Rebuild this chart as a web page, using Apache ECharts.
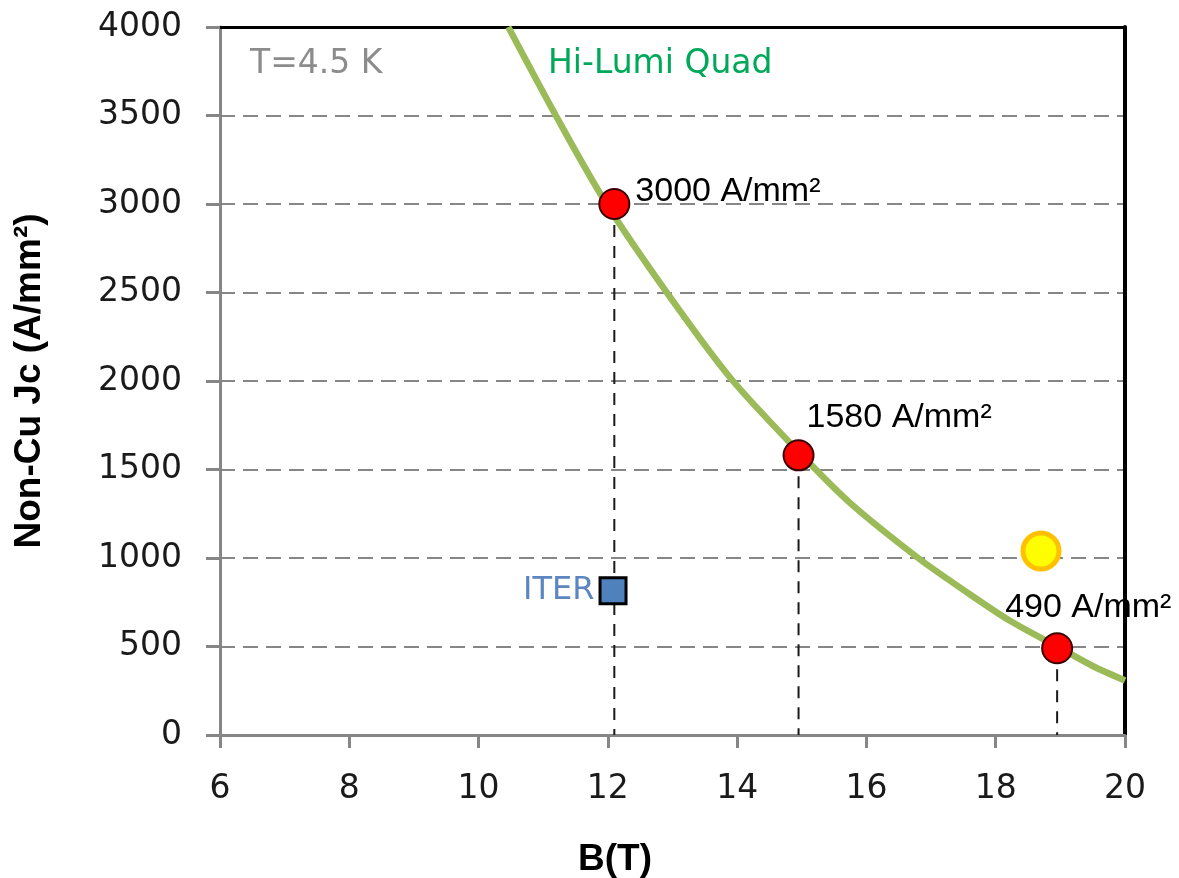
<!DOCTYPE html>
<html>
<head>
<meta charset="utf-8">
<script src="https://cdn.jsdelivr.net/npm/echarts@6/dist/echarts.min.js"></script>
<style>
  html, body { margin: 0; padding: 0; background: #ffffff; }
  #chart { width: 1179px; height: 878px; }
</style>
</head>
<body>
<div id="chart"></div>
<script>
// Non-Cu critical current density versus field at T = 4.5 K

// axis ticks
const bTicks  = [6, 8, 10, 12, 14, 16, 18, 20];
const jcTicks = [0, 500, 1000, 1500, 2000, 2500, 3000, 3500, 4000];

// Hi-Lumi Quad Jc(B) curve
const curveB  = [10.46, 11.21, 11.98, 12.96, 13.89, 14.97, 15.75, 16.8, 17.5, 18.2, 18.95, 19.5, 20.0];
const curveJc = [4000, 3490, 3000, 2475, 2020, 1593, 1310, 1000, 820, 650, 500, 390, 308];

// quoted operating points
const specB      = [12.1, 14.95, 18.95];
const specJc     = [3000, 1580, 490];
const specLabels = ['3000 A/mm²', '1580 A/mm²', '490 A/mm²'];

// ITER strand
const iterB  = [12.08];
const iterJc = [815];

// target point
const targetB  = [18.7];
const targetJc = [1040];

// label placement for the quoted points (px)
const specLabelOffset = [[0, -12], [-13, -38], [-73, -41]];

const zip = (xs, ys) => xs.map((x, i) => [x, ys[i]]);

const tickFont = 'DejaVu Sans';
const gridLine = '#868686';

// vertical dashed drop lines from each quoted point to the B axis
const dropSeries = specB.map((b, i) => ({
  type: 'line',
  data: [[b, specJc[i]], [b, jcTicks[0]]],
  symbol: 'none',
  silent: true,
  z: 2,
  lineStyle: { color: '#1a1a1a', width: 2, type: [12, 9] }
}));

const option = {
  animation: false,
  backgroundColor: '#ffffff',
  grid: { left: 220, right: 54, top: 27, bottom: 143, containLabel: false, outerBoundsMode: 'none' },
  xAxis: [{
    type: 'value',
    min: bTicks[0], max: bTicks[bTicks.length - 1], interval: bTicks[1] - bTicks[0],
    name: 'B(T)',
    nameLocation: 'middle',
    nameGap: 106,
    nameTextStyle: { fontFamily: 'Liberation Sans', fontWeight: 'bold', fontSize: 37, color: '#000', padding: [0, 115, 0, 0] },
    axisLine: { show: true, onZero: false, lineStyle: { color: gridLine, width: 3 } },
    axisTick: { show: true, inside: false, length: 13, lineStyle: { color: gridLine, width: 3 } },
    axisLabel: { margin: 38, fontFamily: tickFont, fontSize: 33, color: '#1a1a1a' },
    splitLine: { show: false }
  }, {
    type: 'value', position: 'top',
    min: bTicks[0], max: bTicks[bTicks.length - 1],
    axisLine: { show: true, onZero: false, lineStyle: { color: '#000', width: 3 } },
    axisTick: { show: false }, axisLabel: { show: false }, splitLine: { show: false }
  }],
  yAxis: [{
    type: 'value',
    min: jcTicks[0], max: jcTicks[jcTicks.length - 1], interval: jcTicks[1] - jcTicks[0],
    name: 'Non-Cu Jc (A/mm²)',
    nameLocation: 'middle',
    nameRotate: 90,
    nameGap: 172,
    nameTextStyle: { fontFamily: 'Liberation Sans', fontWeight: 'bold', fontSize: 37, color: '#000' },
    axisLine: { show: true, onZero: false, lineStyle: { color: gridLine, width: 3 } },
    axisTick: { show: true, inside: false, length: 14, lineStyle: { color: gridLine, width: 3 } },
    axisLabel: { margin: 38, fontFamily: tickFont, fontSize: 33, color: '#1a1a1a', formatter: v => String(v) },
    splitLine: { show: true, lineStyle: { color: gridLine, width: 2, type: [15, 8] } }
  }, {
    type: 'value', position: 'right',
    min: jcTicks[0], max: jcTicks[jcTicks.length - 1],
    axisLine: { show: true, onZero: false, lineStyle: { color: '#000', width: 4 } },
    axisTick: { show: false }, axisLabel: { show: false }, splitLine: { show: false }
  }],
  graphic: [
    {
      type: 'text', left: 250, top: 48, silent: true,
      style: { text: 'T=4.5 K', fontFamily: tickFont, fontSize: 33, fill: '#8c8c8c' }
    },
    {
      type: 'text', left: 548, top: 48, silent: true,
      style: { text: 'Hi-Lumi Quad', fontFamily: tickFont, fontSize: 33, fill: '#00a85a' }
    }
  ],
  series: [
    {
      name: 'Hi-Lumi Quad',
      type: 'line',
      data: zip(curveB, curveJc),
      smooth: 0.3,
      symbol: 'none',
      clip: true,
      z: 3,
      lineStyle: { color: '#9bbb59', width: 6.5 }
    },
    ...dropSeries,
    {
      name: 'ITER',
      type: 'scatter',
      data: zip(iterB, iterJc),
      symbol: 'rect',
      symbolSize: 26,
      z: 5,
      itemStyle: { color: '#4f81bd', borderColor: '#000', borderWidth: 3, opacity: 1 },
      label: {
        show: true, position: 'left', distance: 4,
        formatter: 'ITER',
        fontFamily: tickFont, fontSize: 32, color: '#5b86c0'
      }
    },
    {
      name: 'target',
      type: 'scatter',
      data: zip(targetB, targetJc),
      symbol: 'circle',
      symbolSize: 36,
      z: 5,
      itemStyle: { color: '#ffff00', borderColor: '#ffc000', borderWidth: 5, opacity: 1 }
    },
    {
      name: 'quoted',
      type: 'scatter',
      data: specB.map((b, i) => ({
        value: [b, specJc[i]],
        label: { offset: specLabelOffset[i] }
      })),
      symbol: 'circle',
      symbolSize: 30,
      z: 6,
      itemStyle: { color: '#ff0000', borderColor: '#3a0000', borderWidth: 2, opacity: 1 },
      label: {
        show: true, position: 'right', distance: 5,
        formatter: p => specLabels[p.dataIndex],
        fontFamily: 'Liberation Sans', fontSize: 34, color: '#000'
      }
    }
  ]
};

const chart = echarts.init(document.getElementById('chart'), null, { renderer: 'canvas' });
chart.setOption(option);
</script>
</body>
</html>
